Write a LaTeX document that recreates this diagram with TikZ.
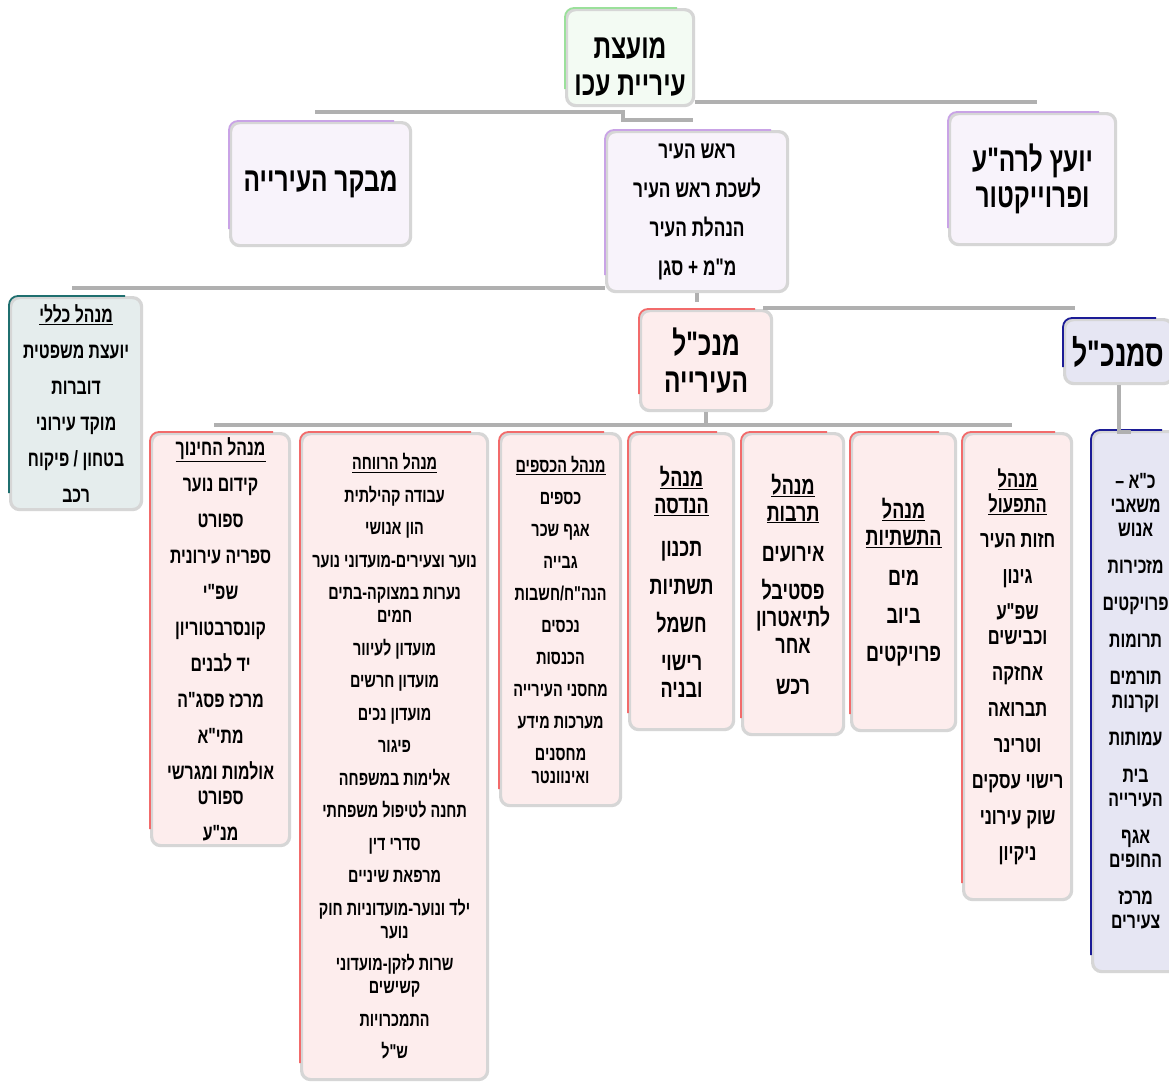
\documentclass[tikz,border=0pt]{standalone}
\usepackage{fontspec}
\newfontfamily\hebfont[Script=Hebrew,FakeStretch=0.72]{Liberation Sans}
\TeXXeTstate=1
\newcommand\myR[1]{\beginR#1\endR}
\newcommand\myU[1]{\underline{\beginR#1\endR}}
\definecolor{bordergray}{HTML}{D6D6D6}
\definecolor{conngray}{HTML}{B0B0B0}
\definecolor{pinkfill}{HTML}{FDEDED}
\definecolor{pinkedge}{HTML}{F26B6B}
\definecolor{purplefill}{HTML}{F8F3FB}
\definecolor{purpleedge}{HTML}{C9A3E6}
\definecolor{greenfill}{HTML}{F3FBF3}
\definecolor{greenedge}{HTML}{9BE09B}
\definecolor{tealfill}{HTML}{E5EDED}
\definecolor{tealedge}{HTML}{1F6F6F}
\definecolor{bluefill}{HTML}{E6E6F3}
\definecolor{blueedge}{HTML}{1C1C96}
\newcommand\boxedge[2]{\draw[#2, line width=1.8, rounded corners=9] ([yshift=18]#1.south west) -- (#1.north west) -- ([xshift=-18]#1.north east);}
\newcommand\hfs[2]{\hebfont\bfseries\fontsize{#1}{#2}\selectfont}
\begin{document}
\begin{tikzpicture}[x=1pt,y=-1pt,
  box/.style={anchor=north west, rounded corners=9, draw=bordergray, line width=3.2, align=center, inner sep=2},
  conn/.style={draw=conngray, line width=4},
  bigt/.style={font=\hfs{34}{37}}]
\useasboundingbox (0,0) rectangle (1169,1084);
\fill[white] (0,0) rectangle (1169,1084);
\clip (0,0) rectangle (1169,1084);

% top level
\node[box, fill=greenfill, minimum width=127, minimum height=96, bigt] (council) at (565,8)
  {\rule{0pt}{40pt}\myR{מועצת}\\\myR{עיריית עכו}};
\node[box, fill=purplefill, minimum width=180, minimum height=123, bigt] (auditor) at (229,121)
  {\myR{מבקר העירייה}};
\node[box, fill=purplefill, minimum width=181, minimum height=160, font=\hfs{24}{25}] (mayor) at (605,130)
  {\myR{ראש העיר}\\[14pt]\myR{לשכת ראש העיר}\\[14pt]\myR{הנהלת העיר}\\[14pt]\myR{מ"מ + סגן}};
\node[box, fill=purplefill, minimum width=166, minimum height=131, font=\hfs{34}{36}] (advisor) at (948,112)
  {\myR{יועץ לרה"ע}\\\myR{ופרוייקטור}};
\node[box, fill=tealfill, minimum width=131, minimum height=212, font=\hfs{22}{25}] (general) at (9,296)
  {\myU{מנהל כללי}\\[11pt]\myR{יועצת משפטית}\\[11pt]\myR{דוברות}\\[11pt]\myR{מוקד עירוני}\\[11pt]\myR{בטחון / פיקוח}\\[11pt]\myR{רכב}};
\node[box, fill=pinkfill, minimum width=131, minimum height=100, bigt] (ceo) at (639,309)
  {\myR{מנכ"ל}\\\myR{העירייה}};
\node[box, fill=bluefill, minimum width=108, minimum height=64, font=\hfs{37}{37}] (vceo) at (1063,318)
  {\myR{סמנכ"ל}};

% bottom row
\node[box, fill=pinkfill, minimum width=138, minimum height=412, font=\hfs{22}{25}] (edu) at (150,432)
  {\myU{מנהל החינוך}\\[11pt]\myR{קידום נוער}\\[11pt]\myR{ספורט}\\[11pt]\myR{ספריה עירונית}\\[11pt]\myR{שפ"י}\\[11pt]\myR{קונסרבטוריון}\\[11pt]\myR{יד לבנים}\\[11pt]\myR{מרכז פסג"ה}\\[11pt]\myR{מתי"א}\\[11pt]\myR{אולמות ומגרשי}\\\myR{ספורט}\\[11pt]\myR{מנ"ע}};
\node[box, fill=pinkfill, minimum width=186, minimum height=646, font=\hfs{20}{23}] (welfare) at (300,432)
  {\myU{מנהל הרווחה}\\[9.5pt]\myR{עבודה קהילתית}\\[9.5pt]\myR{הון אנושי}\\[9.5pt]\myR{נוער וצעירים-מועדוני נוער}\\[9.5pt]\myR{נערות במצוקה-בתים}\\\myR{חמים}\\[9.5pt]\myR{מועדון לעיוור}\\[9.5pt]\myR{מועדון חרשים}\\[9.5pt]\myR{מועדון נכים}\\[9.5pt]\myR{פיגור}\\[9.5pt]\myR{אלימות במשפחה}\\[9.5pt]\myR{תחנה לטיפול משפחתי}\\[9.5pt]\myR{סדרי דין}\\[9.5pt]\myR{מרפאת שיניים}\\[9.5pt]\myR{ילד ונוער-מועדוניות חוק}\\\myR{נוער}\\[9.5pt]\myR{שרות לזקן-מועדוני}\\\myR{קשישים}\\[9.5pt]\myR{התמכרויות}\\[9.5pt]\myR{ש"ל}};
\node[box, fill=pinkfill, minimum width=120, minimum height=372, font=\hfs{20}{23}] (fin) at (499,432)
  {\myU{מנהל הכספים}\\[9pt]\myR{כספים}\\[9pt]\myR{אגף שכר}\\[9pt]\myR{גבייה}\\[9pt]\myR{הנה"ח/חשבות}\\[9pt]\myR{נכסים}\\[9pt]\myR{הכנסות}\\[9pt]\myR{מחסני העירייה}\\[9pt]\myR{מערכות מידע}\\[9pt]\myR{מחסנים}\\\myR{ואינוונטר}};
\node[box, fill=pinkfill, minimum width=104, minimum height=296, font=\hfs{25}{27}] (eng) at (628,432)
  {\myU{מנהל}\\\myU{הנדסה}\\[16pt]\myR{תכנון}\\[11pt]\myR{תשתיות}\\[11pt]\myR{חשמל}\\[11pt]\myR{רישוי}\\\myR{ובניה}};
\node[box, fill=pinkfill, minimum width=101, minimum height=301, font=\hfs{25}{27}] (cult) at (741,432)
  {\myU{מנהל}\\\myU{תרבות}\\[13pt]\myR{אירועים}\\[11pt]\myR{פסטיבל}\\\myR{לתיאטרון}\\\myR{אחר}\\[14pt]\myR{רכש}};
\node[box, fill=pinkfill, minimum width=104, minimum height=297, font=\hfs{25}{27}] (infra) at (850,432)
  {\myU{מנהל}\\\myU{התשתיות}\\[13pt]\myR{מים}\\[11pt]\myR{ביוב}\\[11pt]\myR{פרויקטים}};
\node[box, fill=pinkfill, minimum width=108, minimum height=466, font=\hfs{23}{25}] (ops) at (962,432)
  {\myU{מנהל}\\\myU{התפעול}\\[10pt]\myR{חזות העיר}\\[11pt]\myR{גינון}\\[11pt]\myR{שפ"ע}\\\myR{וכבישים}\\[11pt]\myR{אחזקה}\\[11pt]\myR{תברואה}\\[11pt]\myR{וטרינר}\\[11pt]\myR{רישוי עסקים}\\[11pt]\myR{שוק עירוני}\\[11pt]\myR{ניקיון}};
\node[box, fill=bluefill, minimum width=86, minimum height=540, font=\hfs{22}{24}] (hr) at (1091,430)
  {\myR{כ"א –}\\\myR{משאבי}\\\myR{אנוש}\\[13pt]\myR{מזכירות}\\[13pt]\myR{פרויקטים}\\[13pt]\myR{תרומות}\\[13pt]\myR{תורמים}\\\myR{וקרנות}\\[13pt]\myR{עמותות}\\[13pt]\myR{בית}\\\myR{העירייה}\\[13pt]\myR{אגף}\\\myR{החופים}\\[13pt]\myR{מרכז}\\\myR{צעירים}};

% coloured edges
\boxedge{council}{greenedge}
\boxedge{auditor}{purpleedge}
\boxedge{mayor}{purpleedge}
\boxedge{advisor}{purpleedge}
\boxedge{general}{tealedge}
\boxedge{ceo}{pinkedge}
\boxedge{vceo}{blueedge}
\boxedge{edu}{pinkedge}
\boxedge{welfare}{pinkedge}
\boxedge{fin}{pinkedge}
\boxedge{eng}{pinkedge}
\boxedge{cult}{pinkedge}
\boxedge{infra}{pinkedge}
\boxedge{ops}{pinkedge}
\boxedge{hr}{blueedge}

% connectors
\coordinate (advEnd) at (1037,102);
\draw[conn] (council.east |- advEnd) -- (advEnd);
\coordinate (audEnd) at (315,112);
\coordinate (kink) at (623,112);
\coordinate (mayEnd) at (693,120);
\draw[conn] (audEnd) -- (kink) |- (mayEnd);
\coordinate (genEnd) at (72,288);
\draw[conn] (genEnd) -- (genEnd -| mayor.west);
\coordinate (mstub) at (697,302);
\draw[conn] (mayor.south -| mstub) -- (mstub);
\coordinate (vStart) at (763,308);
\coordinate (vEnd) at (1075,308);
\draw[conn] (vStart) -- (vEnd);
\coordinate (rowL) at (214,425);
\coordinate (rowR) at (1012,425);
\draw[conn] (rowL) -- (rowR);
\draw[conn] (ceo.south) -- (ceo.south |- rowL);
\coordinate (vk) at (1131,432);
\draw[conn] (vceo.south) |- (vk);
\end{tikzpicture}
\end{document}
